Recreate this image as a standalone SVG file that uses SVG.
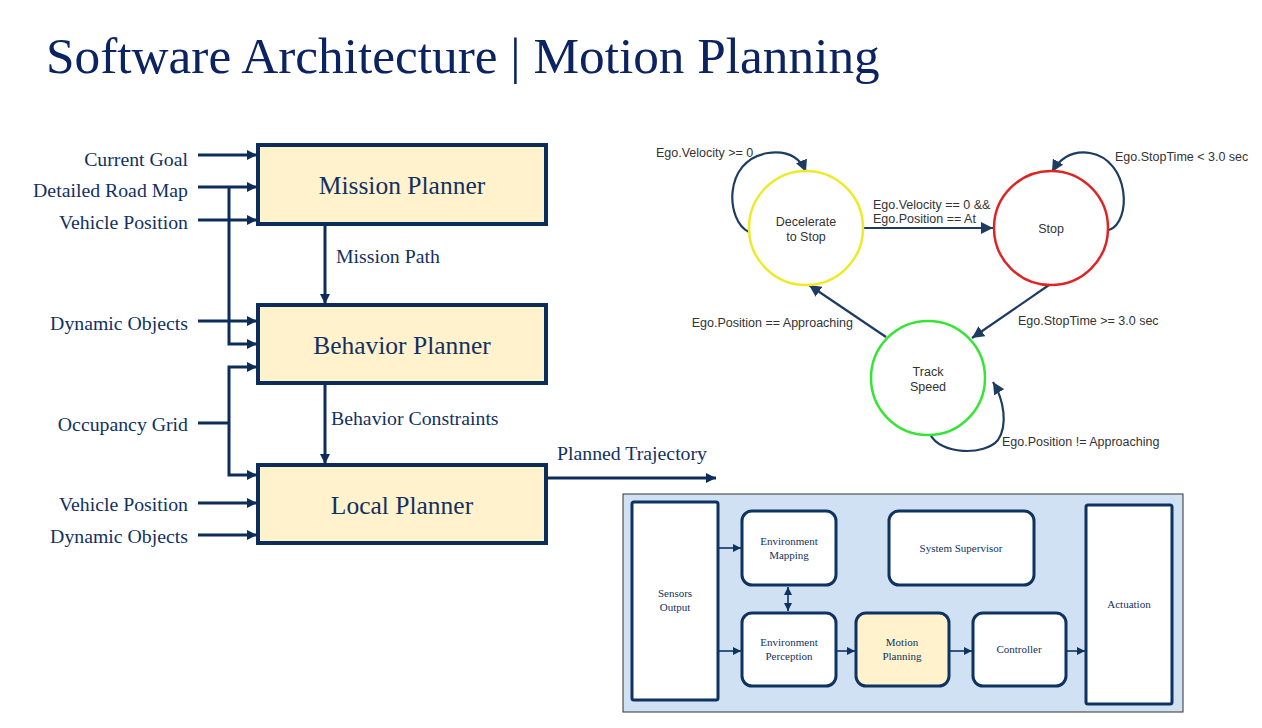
<svg xmlns="http://www.w3.org/2000/svg" width="1262" height="728" viewBox="0 0 1262 728">
<style>
.title{font-family:"Liberation Serif","Times New Roman",serif;font-size:51.3px;fill:#0b2461}
.lbl{font-family:"Liberation Serif","Times New Roman",serif;font-size:19.8px;fill:#12315f}
.big{font-family:"Liberation Serif","Times New Roman",serif;font-size:25.5px;fill:#12315f;text-anchor:middle}
.pbox{fill:#fff2cc;stroke:#0c2d5a;stroke-width:4}
.conn{fill:none;stroke:#0c2d5a;stroke-width:3}
.sm{font-family:"Liberation Sans",Arial,sans-serif;font-size:12.5px;fill:#333333}
.smc{font-family:"Liberation Sans",Arial,sans-serif;font-size:12.5px;fill:#333333;text-anchor:middle}
.st{fill:#fff;stroke-width:2.5}
.smconn{fill:none;stroke:#1d3c62;stroke-width:2.2}
.blk{fill:#ffffff;stroke:#0e3360;stroke-width:3}
.blky{fill:#fff2cc;stroke:#0e3360;stroke-width:3}
.btxt{font-family:"Liberation Serif","Times New Roman",serif;font-size:11px;fill:#12315f;text-anchor:middle}
.bconn{fill:none;stroke:#0e3360;stroke-width:1.6}
</style>
<defs>
<marker id="ah" markerUnits="userSpaceOnUse" markerWidth="10" markerHeight="10" viewBox="0 0 10 10" refX="10" refY="5" orient="auto">
<path d="M0,0 L10,5 L0,10 z" fill="#0c2d5a"/>
</marker>
<marker id="sah" markerUnits="userSpaceOnUse" markerWidth="12" markerHeight="12" viewBox="0 0 12 12" refX="12" refY="6" orient="auto">
<path d="M0,0 L12,6 L0,12 z" fill="#1d3c62"/>
</marker>
<marker id="bah" markerUnits="userSpaceOnUse" markerWidth="8" markerHeight="8" viewBox="0 0 8 8" refX="8" refY="4" orient="auto-start-reverse">
<path d="M0,0 L8,4 L0,8 z" fill="#0e3360"/>
</marker>
</defs>
<rect width="1262" height="728" fill="#ffffff"/>
<text class="title" x="46" y="73">Software Architecture | Motion Planning</text>

<g id="overview">
<rect x="623" y="494" width="560" height="218" fill="#cfe1f2" stroke="#333333" stroke-width="1"/>
</g>

<g id="connectors">
<path class="conn" marker-end="url(#ah)" d="M198,155 H257"/>
<path class="conn" marker-end="url(#ah)" d="M198,187 H257"/>
<path class="conn" marker-end="url(#ah)" d="M198,220 H257"/>
<path class="conn" marker-end="url(#ah)" d="M229,187 V344 H257"/>
<path class="conn" marker-end="url(#ah)" d="M198,321 H257"/>
<path class="conn" d="M198,423 H229"/>
<path class="conn" marker-end="url(#ah)" d="M229,423 V367 H257"/>
<path class="conn" marker-end="url(#ah)" d="M229,423 V475 H257"/>
<path class="conn" marker-end="url(#ah)" d="M198,503 H257"/>
<path class="conn" marker-end="url(#ah)" d="M198,535 H257"/>
<path class="conn" marker-end="url(#ah)" d="M325,226 V304"/>
<path class="conn" marker-end="url(#ah)" d="M325,385 V464"/>
<path class="conn" marker-end="url(#ah)" d="M548,478 H716"/>

<path class="smconn" marker-end="url(#sah)" d="M864,228 H993"/>
<path class="smconn" marker-end="url(#sah)" d="M1049,285 L972,338"/>
<path class="smconn" marker-end="url(#sah)" d="M886,337 L809,285"/>
<path class="smconn" marker-end="url(#sah)" d="M749,232 C726,222 722,160 768,153 C790,150 801,160 806,172"/>
<path class="smconn" marker-end="url(#sah)" d="M1109,230 C1132,222 1130,160 1090,153 C1070,150 1059,160 1052,172"/>
<path class="smconn" marker-end="url(#sah)" d="M930,434 C940,455 985,456 998,440 C1008,425 1004,400 993,382"/>

<path class="bconn" marker-end="url(#bah)" d="M718,548 H741"/>
<path class="bconn" marker-end="url(#bah)" d="M718,651 H741"/>
<path class="bconn" marker-end="url(#bah)" marker-start="url(#bah)" d="M788,587 V611"/>
<path class="bconn" marker-end="url(#bah)" d="M836,651 H855"/>
<path class="bconn" marker-end="url(#bah)" d="M949,651 H972"/>
<path class="bconn" marker-end="url(#bah)" d="M1066,651 H1085"/>
</g>

<g id="labels">
<text class="lbl" x="188" y="166" text-anchor="end">Current Goal</text>
<text class="lbl" x="188" y="197" text-anchor="end">Detailed Road Map</text>
<text class="lbl" x="188" y="229" text-anchor="end">Vehicle Position</text>
<text class="lbl" x="188" y="330" text-anchor="end">Dynamic Objects</text>
<text class="lbl" x="188" y="431" text-anchor="end">Occupancy Grid</text>
<text class="lbl" x="188" y="511" text-anchor="end">Vehicle Position</text>
<text class="lbl" x="188" y="543" text-anchor="end">Dynamic Objects</text>
<text class="lbl" x="336" y="263">Mission Path</text>
<text class="lbl" x="331" y="425">Behavior Constraints</text>
<text class="lbl" x="557" y="460">Planned Trajectory</text>
<text class="sm" x="656" y="157">Ego.Velocity &gt;= 0</text>
<text class="sm" x="873" y="209">Ego.Velocity == 0 &amp;&amp;</text>
<text class="sm" x="873" y="223">Ego.Position == At</text>
<text class="sm" x="1115" y="161">Ego.StopTime &lt; 3.0 sec</text>
<text class="sm" x="1018" y="325">Ego.StopTime &gt;= 3.0 sec</text>
<text class="sm" x="853" y="327" text-anchor="end">Ego.Position == Approaching</text>
<text class="sm" x="1002" y="446">Ego.Position != Approaching</text>
</g>

<g id="mission-planner">
<rect class="pbox" x="258" y="145" width="288" height="79"/>
<text class="big" x="402" y="194">Mission Planner</text>
</g>
<g id="behavior-planner">
<rect class="pbox" x="258" y="305" width="288" height="78"/>
<text class="big" x="402" y="354">Behavior Planner</text>
</g>
<g id="local-planner">
<rect class="pbox" x="258" y="465" width="288" height="78"/>
<text class="big" x="402" y="514">Local Planner</text>
</g>

<g id="decelerate">
<circle class="st" cx="806" cy="228" r="57" stroke="#eeea2a"/>
<text class="smc" x="806" y="226">Decelerate</text>
<text class="smc" x="806" y="241">to Stop</text>
</g>
<g id="stop">
<circle class="st" cx="1051" cy="228" r="57" stroke="#e02424"/>
<text class="smc" x="1051" y="233">Stop</text>
</g>
<g id="track-speed">
<circle class="st" cx="928" cy="378" r="57" stroke="#33e633"/>
<text class="smc" x="928" y="376">Track</text>
<text class="smc" x="928" y="391">Speed</text>
</g>

<g id="sensors-output">
<rect class="blk" x="632" y="502" width="86" height="198" rx="2" stroke-width="4"/>
<text class="btxt" x="675" y="597">Sensors</text>
<text class="btxt" x="675" y="611">Output</text>
</g>
<g id="env-mapping">
<rect class="blk" x="742" y="511" width="94" height="74" rx="10"/>
<text class="btxt" x="789" y="545">Environment</text>
<text class="btxt" x="789" y="559">Mapping</text>
</g>
<g id="system-supervisor">
<rect class="blk" x="889" y="511" width="145" height="74" rx="10"/>
<text class="btxt" x="961" y="552">System Supervisor</text>
</g>
<g id="env-perception">
<rect class="blk" x="742" y="613" width="94" height="73" rx="10"/>
<text class="btxt" x="789" y="646">Environment</text>
<text class="btxt" x="789" y="660">Perception</text>
</g>
<g id="motion-planning">
<rect class="blky" x="856" y="613" width="93" height="73" rx="10"/>
<text class="btxt" x="902" y="646">Motion</text>
<text class="btxt" x="902" y="660">Planning</text>
</g>
<g id="controller">
<rect class="blk" x="973" y="613" width="93" height="73" rx="10"/>
<text class="btxt" x="1019" y="653">Controller</text>
</g>
<g id="actuation">
<rect class="blk" x="1086" y="505" width="86" height="199" rx="2" stroke-width="4"/>
<text class="btxt" x="1129" y="608">Actuation</text>
</g>
</svg>
